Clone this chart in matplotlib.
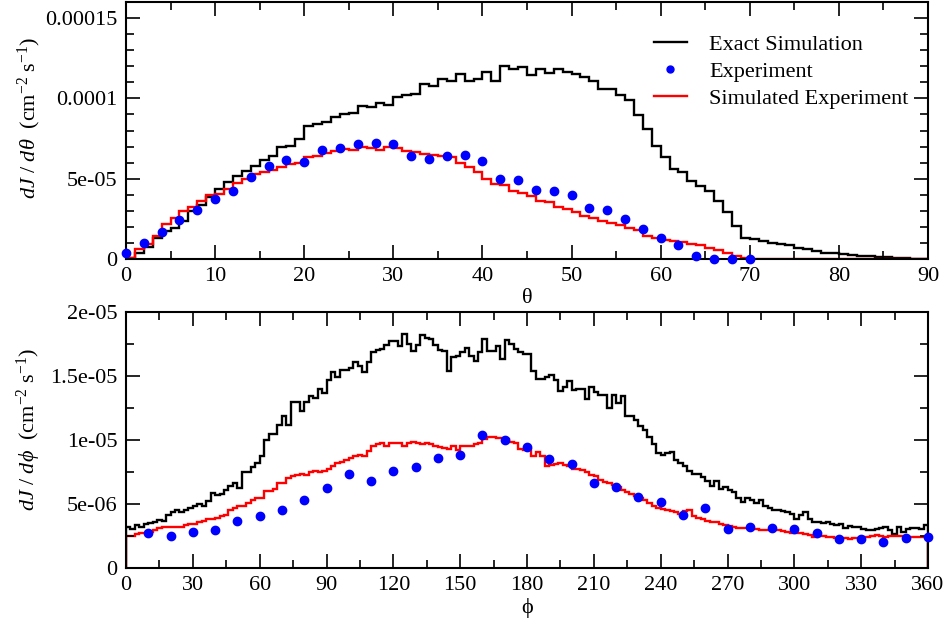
import numpy as np
import matplotlib
matplotlib.use("Agg")
import matplotlib.pyplot as plt
from matplotlib.ticker import MultipleLocator, FixedLocator, FixedFormatter
from matplotlib.lines import Line2D

plt.rcParams['font.family'] = ['Liberation Serif', 'DejaVu Serif']
plt.rcParams['mathtext.fontset'] = 'custom'
plt.rcParams['mathtext.rm'] = 'Liberation Serif'
plt.rcParams['mathtext.it'] = 'Liberation Serif:italic'
plt.rcParams['mathtext.bf'] = 'Liberation Serif:bold'

# ---------------- data ----------------
theta_bin_width = 1.0
phi_bin_width = 2.0

# dJ/dtheta (units 1e-5), 1-degree bins from 0 to 90
exact_theta = [0.08, 0.4, 0.75, 1.29, 1.75, 1.96, 2.38, 2.96, 3.38, 3.83,
               4.35, 4.77, 5.19, 5.5, 5.81, 6.17, 6.44, 6.96, 7.02, 7.5,
               8.3, 8.4, 8.5, 8.85, 9.05, 9.1, 9.5, 9.45, 9.7, 9.6,
               10.1, 10.2, 10.3, 10.9, 10.8, 11.2, 11.1, 11.5, 11.1, 11.2,
               11.65, 11.1, 12.0, 11.8, 11.95, 11.45, 11.85, 11.55, 11.85, 11.65,
               11.5, 11.33, 11.1, 10.6, 10.6, 10.2, 9.9, 8.94, 8.1, 7.06,
               6.33, 5.6, 5.4, 4.88, 4.56, 4.25, 3.63, 2.9, 2.06, 1.33,
               1.25, 1.13, 1.0, 0.92, 0.9, 0.7, 0.6, 0.5, 0.37, 0.35,
               0.33, 0.25, 0.2, 0.2, 0.15, 0.1, 0.08, 0.05, 0.02, 0.01]
simexp_theta = [0.08, 0.6, 0.96, 1.44, 2.21, 2.58, 2.96, 3.25, 3.63, 4.0,
                4.04, 4.35, 4.71, 4.98, 5.29, 5.4, 5.54, 5.75, 5.92, 5.98,
                6.33, 6.4, 6.58, 6.71, 6.83, 6.79, 6.96, 6.9, 6.79, 6.96,
                6.92, 6.75, 6.65, 6.54, 6.5, 6.44, 6.33, 5.96, 5.71, 5.4,
                4.98, 4.67, 4.6, 4.25, 4.08, 3.94, 3.63, 3.52, 3.21, 3.1,
                2.9, 2.69, 2.54, 2.38, 2.27, 2.13, 1.96, 1.81, 1.44, 1.29,
                1.17, 1.13, 1.08, 0.96, 0.85, 0.71, 0.54, 0.4, 0.19, 0.04,
                0.02, 0.02, 0.01, 0.01, 0.01, 0.01, 0.0, 0.0, 0.0, 0.0,
                0.0, 0.0, 0.0, 0.0, 0.0, 0.0, 0.0, 0.0, 0.0, 0.0]
exp_theta_x = [0, 2, 4, 6, 8, 10, 12, 14, 16, 18, 20, 22, 24, 26, 28, 30, 32, 34,
               36, 38, 40, 42, 44, 46, 48, 50, 52, 54, 56, 58, 60, 62, 64, 66, 68, 70]
exp_theta_y = [0.35, 0.98, 1.69, 2.44, 3.06, 3.71, 4.25, 5.08, 5.79, 6.19, 6.06, 6.79,
               6.92, 7.17, 7.21, 7.17, 6.4, 6.23, 6.42, 6.48, 6.13, 4.96, 4.94, 4.31,
               4.21, 3.96, 3.15, 3.08, 2.52, 1.85, 1.33, 0.85, 0.19, 0.0, 0.0, 0.0]

# dJ/dphi (units 1e-6), 2-degree bins from 0 to 360
exact_phi = [3.19, 3.03, 3.35, 3.19, 3.42, 3.5, 3.56, 3.76, 3.71, 4.16,
             4.34, 4.5, 4.34, 4.55, 4.68, 4.86, 5.02, 4.86, 5.2, 5.86,
             5.73, 5.8, 6.12, 6.43, 6.64, 6.22, 7.48, 7.48, 7.9, 8.2,
             8.78, 10.0, 10.5, 10.5, 11.2, 11.9, 11.2, 13.0, 13.0, 12.3,
             13.0, 13.4, 13.3, 14.0, 13.65, 14.7, 15.3, 14.95, 15.5, 15.5,
             15.65, 16.1, 15.75, 15.3, 16.1, 16.9, 17.05, 17.1, 17.4, 17.7,
             17.7, 17.35, 18.3, 17.5, 16.95, 17.4, 18.2, 17.95, 17.9, 17.4,
             17.05, 16.95, 15.4, 16.45, 16.6, 16.85, 17.2, 16.6, 16.2, 16.85,
             17.9, 16.95, 16.95, 17.35, 16.3, 17.8, 17.5, 17.1, 16.9, 16.7,
             16.7, 15.4, 14.8, 14.8, 14.95, 15.05, 14.7, 13.8, 14.15, 14.6,
             13.9, 13.95, 13.95, 13.2, 14.15, 13.75, 13.55, 13.5, 12.5, 13.55,
             12.9, 13.4, 11.9, 11.9, 11.6, 11.1, 10.8, 10.2, 9.65, 9.0,
             8.86, 9.0, 9.05, 8.42, 8.2, 7.95, 7.55, 7.35, 7.35, 7.1,
             6.77, 6.43, 6.77, 6.17, 6.33, 6.12, 5.9, 5.46, 5.12, 5.46,
             5.28, 5.07, 5.28, 4.86, 4.68, 4.55, 4.5, 4.42, 4.34, 4.24,
             3.82, 4.16, 4.34, 3.82, 3.63, 3.56, 3.5, 3.56, 3.42, 3.35,
             3.42, 3.11, 3.29, 3.19, 3.19, 3.03, 2.98, 2.93, 3.03, 3.11,
             3.19, 2.93, 2.67, 3.19, 2.85, 3.03, 3.11, 3.11, 3.03, 3.37]
simexp_phi = [2.51, 2.51, 2.64, 2.72, 2.77, 2.82, 2.93, 3.14, 3.19, 3.19,
              3.24, 3.22, 3.24, 3.35, 3.45, 3.45, 3.56, 3.66, 3.82, 3.82,
              3.92, 4.03, 4.16, 4.55, 4.68, 4.81, 4.86, 5.07, 5.33, 5.44,
              5.46, 5.99, 6.04, 6.17, 6.64, 6.64, 7.03, 7.16, 7.27, 7.37,
              7.29, 7.53, 7.56, 7.48, 7.56, 7.74, 8.0, 8.21, 8.26, 8.47,
              8.6, 8.73, 8.81, 8.78, 9.12, 9.52, 9.65, 9.73, 9.57, 9.73,
              9.78, 9.73, 9.57, 9.73, 9.83, 9.78, 9.67, 9.73, 9.65, 9.57,
              9.46, 9.36, 9.31, 9.52, 9.25, 9.52, 9.57, 9.52, 9.65, 9.78,
              10.09, 10.22, 10.25, 10.17, 10.17, 10.04, 9.88, 9.73, 9.31, 9.25,
              9.31, 8.73, 9.05, 8.73, 8.0, 8.08, 8.16, 8.21, 8.08, 7.95,
              7.74, 7.74, 7.69, 7.48, 7.29, 7.22, 6.9, 6.75, 6.64, 6.48,
              6.33, 6.12, 5.91, 5.75, 5.59, 5.44, 5.28, 5.07, 4.86, 4.71,
              4.6, 4.55, 4.44, 4.34, 4.24, 4.42, 4.5, 4.08, 3.87, 3.82,
              3.71, 3.61, 3.56, 3.45, 3.37, 3.29, 3.24, 3.14, 3.11, 3.11,
              3.03, 3.03, 2.98, 2.93, 2.93, 2.98, 2.93, 2.88, 2.8, 2.72,
              2.72, 2.77, 2.67, 2.59, 2.46, 2.51, 2.51, 2.41, 2.41, 2.35,
              2.33, 2.33, 2.25, 2.33, 2.33, 2.41, 2.46, 2.51, 2.59, 2.51,
              2.46, 2.51, 2.51, 2.51, 2.51, 2.46, 2.46, 2.46, 2.46, 2.46]
exp_phi_x = [10, 20, 30, 40, 50, 60, 70, 80, 90, 100, 110, 120, 130, 140, 150, 160, 170, 180,
             190, 200, 210, 220, 230, 240, 250, 260, 270, 280, 290, 300, 310, 320, 330, 340, 350, 360]
exp_phi_y = [2.77, 2.51, 2.85, 2.93, 3.69, 4.03, 4.55, 5.28, 6.27, 7.35, 6.77, 7.56,
             7.92, 8.58, 8.81, 10.38, 9.99, 9.44, 8.5, 8.13, 6.67, 6.35, 5.57, 5.15,
             4.13, 4.65, 3.08, 3.22, 3.11, 3.03, 2.72, 2.3, 2.27, 2.01, 2.33, 2.43]

theta_ticks = [0, 10, 20, 30, 40, 50, 60, 70, 80, 90]
theta_yticks = [0, 5e-5, 1e-4, 1.5e-4]
theta_yticklabels = ["0", "5e-05", "0.0001", "0.00015"]
phi_ticks = [0, 30, 60, 90, 120, 150, 180, 210, 240, 270, 300, 330, 360]
phi_yticks = [0, 5e-6, 1e-5, 1.5e-5, 2e-5]
phi_yticklabels = ["0", "5e-06", "1e-05", "1.5e-05", "2e-05"]

legend_labels = ["Exact Simulation", "Experiment", "Simulated Experiment"]

# ---------------- figure ----------------
W, H = 949, 626
fig = plt.figure(figsize=(W / 100, H / 100), dpi=100)
ax1 = fig.add_axes([126 / W, 1 - 259 / H, (928 - 126) / W, (259 - 2) / H])
ax2 = fig.add_axes([126 / W, 1 - 568 / H, (928 - 126) / W, (568 - 312) / H])

lw = 1.7
fs = 16

def style(ax):
    for s in ax.spines.values():
        s.set_linewidth(1.5)
    ax.tick_params(which='both', direction='in', top=True, right=True,
                   labelsize=fs, width=1.2)
    ax.tick_params(which='major', length=10, pad=6)
    ax.tick_params(which='minor', length=5.5)

# top panel
s1 = 1e-5
e_th = np.arange(len(exact_theta) + 1) * theta_bin_width
ax1.stairs(np.array(exact_theta) * s1, e_th, color='black', lw=lw)
ax1.plot(exp_theta_x, np.array(exp_theta_y) * s1, 'o', color='blue', ms=6,
         clip_on=False, zorder=5)
ax1.stairs(np.array(simexp_theta) * s1, e_th, color='red', lw=lw)
ax1.set_xlim(0, 90)
ax1.set_ylim(0, 1.6e-4)
ax1.xaxis.set_major_locator(FixedLocator(theta_ticks))
ax1.xaxis.set_minor_locator(MultipleLocator(5))
ax1.yaxis.set_major_locator(FixedLocator(theta_yticks))
ax1.yaxis.set_major_formatter(FixedFormatter(theta_yticklabels))
ax1.yaxis.set_minor_locator(MultipleLocator(1e-5))
style(ax1)
ax1.set_xlabel("θ", fontsize=fs, labelpad=2)
ax1.set_ylabel(r"$dJ\ /\ d\theta\ \ \mathrm{(cm}^{-2}\ \mathrm{s}^{-1}\mathrm{)}$", fontsize=fs)
ax1.yaxis.set_label_coords(-0.104, 0.55)
handles = [Line2D([], [], color='black', lw=lw),
           Line2D([], [], color='blue', marker='o', ls='', ms=5),
           Line2D([], [], color='red', lw=lw)]
ax1.legend(handles, legend_labels, loc='upper right', bbox_to_anchor=(0.995, 0.935),
           frameon=False, fontsize=fs, handlelength=1.5, handletextpad=1.0,
           labelspacing=0.3, borderaxespad=0.3)

# bottom panel
s2 = 1e-6
e_ph = np.arange(len(exact_phi) + 1) * phi_bin_width
ax2.stairs(np.array(exact_phi) * s2, e_ph, color='black', lw=lw)
ax2.plot(exp_phi_x, np.array(exp_phi_y) * s2, 'o', color='blue', ms=6, clip_on=False, zorder=5)
ax2.stairs(np.array(simexp_phi) * s2, e_ph, color='red', lw=lw)
ax2.set_xlim(0, 360)
ax2.set_ylim(0, 2e-5)
ax2.xaxis.set_major_locator(FixedLocator(phi_ticks))
ax2.xaxis.set_minor_locator(MultipleLocator(15))
ax2.yaxis.set_major_locator(FixedLocator(phi_yticks))
ax2.yaxis.set_major_formatter(FixedFormatter(phi_yticklabels))
ax2.yaxis.set_minor_locator(MultipleLocator(2.5e-6))
style(ax2)
ax2.set_xlabel("ϕ", fontsize=fs, labelpad=2)
ax2.set_ylabel(r"$dJ\ /\ d\phi\ \ \mathrm{(cm}^{-2}\ \mathrm{s}^{-1}\mathrm{)}$", fontsize=fs)
ax2.yaxis.set_label_coords(-0.104, 0.54)

fig.savefig("out.png", dpi=100)
